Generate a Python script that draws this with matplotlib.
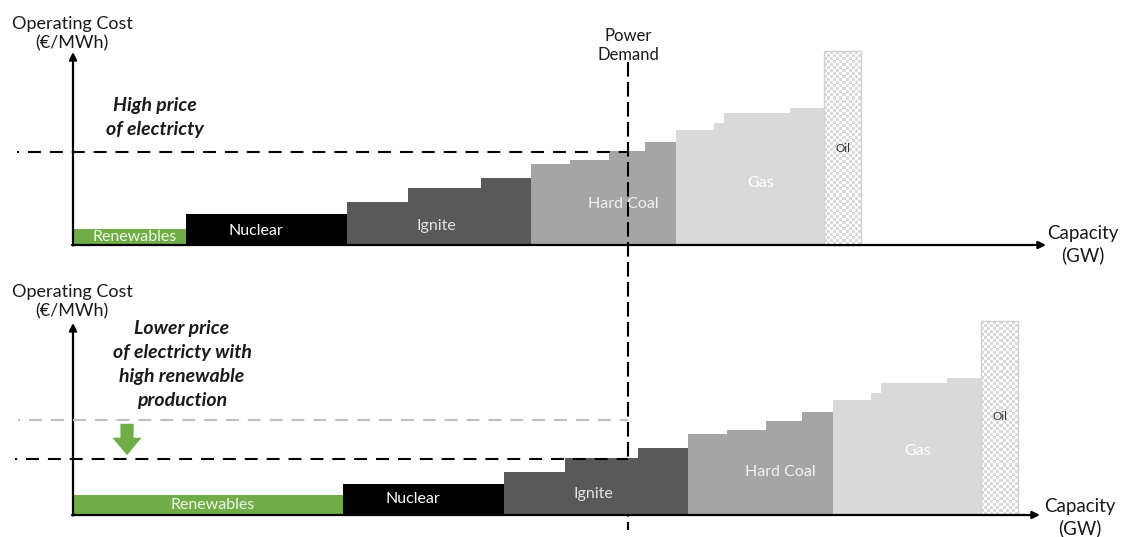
import numpy as np
import matplotlib
matplotlib.use("Agg")
import matplotlib.pyplot as plt
from matplotlib.patches import FancyArrowPatch

plt.rcParams['font.family'] = ['Lato', 'DejaVu Sans']

# Merit order: capacity blocks (GW) and their operating cost (EUR/MWh)
tech_labels = ["Renewables", "Nuclear", "Ignite", "Hard Coal", "Gas", "Oil"]
renewable_capacity = [11.3, 27.0]      # today / with high renewable production
renewable_cost = [16, 20]
nuclear_capacity = [16.1]
nuclear_cost = [31]
lignite_capacity = [6.1, 7.3, 5.0]
lignite_cost = [43, 57, 67]
coal_capacity = [3.9, 3.9, 3.6, 3.1]
coal_cost = [81, 85, 94, 103]
gas_capacity = [3.8, 1.0, 6.6, 3.4]
gas_cost = [115, 122, 132, 137]
oil_capacity = [3.7]
oil_cost = [194]

power_demand = 55.5      # GW
price_high = 93          # EUR/MWh, clearing price without extra renewables
price_low = 56           # EUR/MWh, clearing price with high renewable output

colors = ["#70ad47", "#000000", "#595959", "#a5a5a5", "#d9d9d9", None]
label_colors = ["#eef5e8", "#ffffff", "#e4e4e4", "#f2f2f2", "#ffffff", "#333333"]
label_sizes = [11.5, 11.5, 11.5, 11.5, 11.5, 8.5]
label_dx = [0.5, -1.1, -0.3, 2.0, 1.1, 0.0]
label_y = [8, 14, 19, 41, 62, 97]

W, H = 1124, 537
fig = plt.figure(figsize=(W / 100, H / 100), dpi=100)

ax_top = fig.add_axes([0, 1 - 265 / H, 1, 265 / H])
ax_bot = fig.add_axes([0, 0, 1, 267 / H])
ax_top.set_ylim(-20, 245)
ax_bot.set_ylim(-22, 245)


def draw_merit_order(ax, ren_cap, ren_cost, label_lift=0):
    groups = [
        ([ren_cap], [ren_cost]),
        (nuclear_capacity, nuclear_cost),
        (lignite_capacity, lignite_cost),
        (coal_capacity, coal_cost),
        (gas_capacity, gas_cost),
        (oil_capacity, oil_cost),
    ]
    start = 0.0
    for i, (caps, costs) in enumerate(groups):
        caps = np.asarray(caps, dtype=float)
        lefts = start + np.concatenate([[0.0], np.cumsum(caps)[:-1]])
        if colors[i] is not None:
            ax.bar(lefts, costs, width=caps, align="edge", color=colors[i],
                   linewidth=0, zorder=2)
        else:
            bars = ax.bar(lefts, costs, width=caps, align="edge",
                          facecolor="none", edgecolor="#d2d2d2",
                          linewidth=1.0, zorder=3)
            for b, c, left, w in zip(bars, costs, lefts, caps):
                ny, nx = int(c / 3), int(w * 10 / 3)
                yy, xx = np.mgrid[0:ny, 0:nx]
                checker = ((xx + yy) % 2).astype(float)
                im = ax.imshow(checker, cmap=matplotlib.colors.ListedColormap(["#ffffff", "#dadada"]),
                               extent=(left, left + w, 0, c), origin="lower",
                               interpolation="nearest", aspect="auto", zorder=2)
                im.set_clip_path(b)
        center = start + caps.sum() / 2
        ax.text(center + label_dx[i], label_y[i] + label_lift, tech_labels[i],
                ha="center", va="center", color=label_colors[i],
                fontsize=label_sizes[i], zorder=4)
        start += caps.sum()


draw_merit_order(ax_top, renewable_capacity[0], renewable_cost[0])
draw_merit_order(ax_bot, renewable_capacity[1], renewable_cost[1], label_lift=2)

for ax, y_tip, x_tip in [(ax_top, 193, 97.3), (ax_bot, 192, 96.7)]:
    ax.set_xlim(-7.3, 105.1)
    ax.axis("off")
    arrow = dict(arrowstyle="-|>", color="black", lw=1.6, mutation_scale=11,
                 shrinkA=0, shrinkB=0)
    ax.annotate("", xy=(0, y_tip), xytext=(0, -0.5), arrowprops=arrow, zorder=5)
    ax.annotate("", xy=(x_tip, 0), xytext=(-0.1, 0), arrowprops=arrow, zorder=5)

dash = (5.2, (6.2, 4.3))

# Price levels
ax_top.plot([-5.6, power_demand], [price_high, price_high], color="black",
            lw=1.5, linestyle=dash, zorder=5)
ax_bot.plot([-5.5, power_demand], [price_high + 2, price_high + 2], color="#bfbfbf",
            lw=1.5, linestyle=dash, zorder=5)
ax_bot.plot([-5.8, power_demand], [price_low, price_low], color="black",
            lw=1.5, linestyle=dash, zorder=5)

# Power demand line across both panels
ax_top.plot([power_demand, power_demand], [183, -285], color="black", lw=1.5,
            linestyle=(0, (7.0, 2.6)), zorder=6, clip_on=False)
ax_top.text(power_demand, 199.5, "Power\nDemand", ha="center", va="center",
            fontsize=12, linespacing=1.25, color="#1a1a1a")

# Price drop arrow
ax_bot.add_patch(FancyArrowPatch((5.4, price_high + 1), (5.4, price_low + 1),
                                 arrowstyle="simple,head_length=0.6,head_width=1.0,tail_width=0.45",
                                 mutation_scale=21, color="#70ad47", lw=0, zorder=6))

# Axis titles
for ax, y_c in [(ax_top, 211.5), (ax_bot, 213.5)]:
    ax.text(-0.1, y_c, "Operating Cost\n(€/MWh)", ha="center", va="center",
            fontsize=13, linespacing=1.28, color="#1a1a1a")
ax_top.text(101.0, 0.5, "Capacity\n(GW)", ha="center", va="center",
            fontsize=13.5, linespacing=1.33, color="#1a1a1a")
ax_bot.text(100.7, -2.5, "Capacity\n(GW)", ha="center", va="center",
            fontsize=13.5, linespacing=1.25, color="#1a1a1a", clip_on=False)

ax_top.text(8.2, 127.5, "High price\nof electricty", ha="center", va="center",
            fontsize=14, fontweight="bold", fontstyle="italic", linespacing=1.55,
            color="#1a1a1a")
ax_bot.text(10.9, 150.5, "Lower price\nof electricty with\nhigh renewable\nproduction",
            ha="center", va="center", fontsize=14, fontweight="bold",
            fontstyle="italic", linespacing=1.52, color="#1a1a1a")

fig.savefig("out.png", dpi=100)
